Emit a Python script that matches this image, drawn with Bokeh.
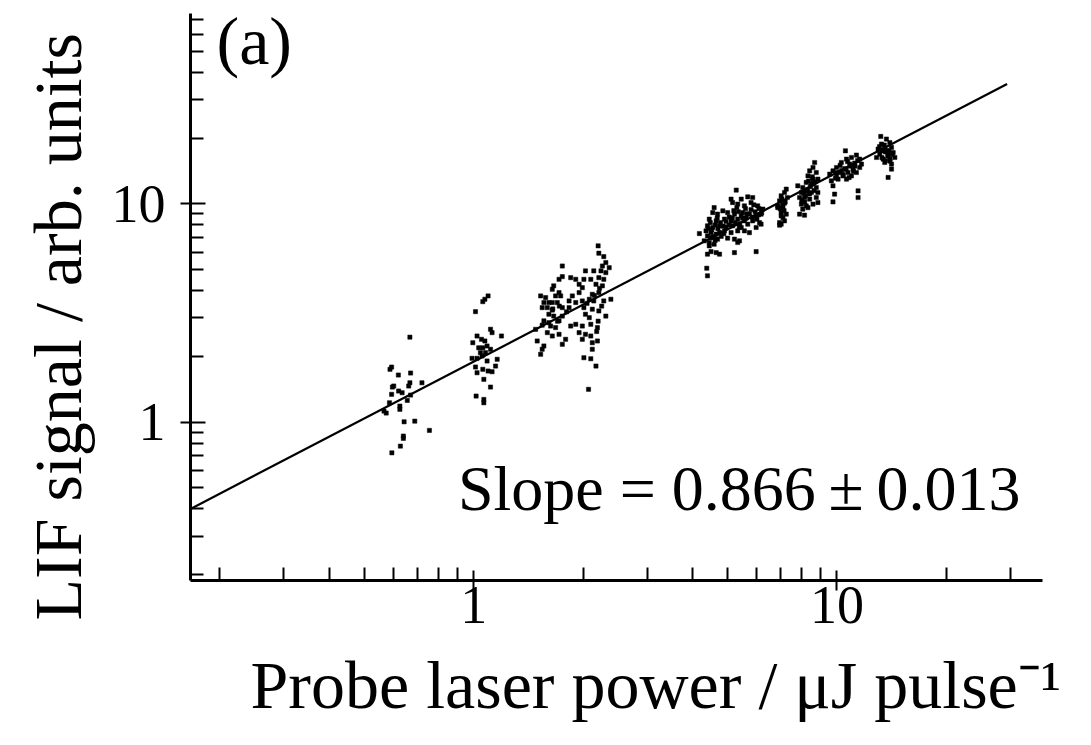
import math
from bokeh.plotting import figure
from bokeh.models import FixedTicker, Label, PrintfTickFormatter, Range1d, Title
from bokeh.embed import file_html
from bokeh.resources import INLINE

# ---------------- data ----------------
# probe laser power (uJ/pulse) and LIF signal (arb. units), grouped by cluster
power_a = [0.667, 0.588, 0.594, 0.620, 0.670, 0.667, 0.662, 0.720, 0.597, 0.602,
           0.594, 0.621, 0.635, 0.656, 0.670, 0.586, 0.626, 0.626, 0.566, 0.643,
           0.688, 0.755, 0.640, 0.640, 0.628, 0.595, 0.574]
signal_a = [2.45, 1.745, 1.787, 1.643, 1.678, 1.514, 1.463, 1.514, 1.447, 1.463,
            1.34, 1.388, 1.363, 1.257, 1.33, 1.226, 1.184, 1.144, 1.123, 1.003,
            1.01, 0.916, 0.863, 0.842, 0.776, 0.723, 1.10]

power_b = [1.095, 1.073, 1.059, 1.011, 1.112, 1.123, 1.192, 1.021, 1.050, 0.994,
           1.073, 1.032, 1.059, 1.088, 1.112, 1.043, 1.077, 0.989, 1.021, 1.054,
           1.088, 1.160, 1.011, 1.059, 1.095, 1.123, 1.148, 1.021, 1.066, 1.112,
           1.015, 1.066, 1.066]
signal_b = [3.785, 3.655, 3.563, 3.207, 2.663, 2.57, 2.48, 2.48, 2.395, 2.31,
            2.353, 2.19, 2.19, 2.232, 2.156, 2.08, 2.08, 1.96, 1.96, 2.009,
            1.905, 1.94, 1.788, 1.745, 1.714, 1.701, 1.806, 1.683, 1.57, 1.447,
            1.316, 1.27, 1.226]

power_c = [2.20, 2.21, 2.28, 2.31, 2.36, 2.26, 2.24, 2.31, 1.753, 2.03,
           2.14, 1.753, 1.717, 1.849, 1.909, 2.01, 2.10, 2.21, 2.28, 1.95,
           1.99, 2.17, 2.26, 1.66, 1.645, 1.717, 1.735, 1.68, 1.95, 1.868,
           2.12, 2.21, 1.528, 1.577, 1.56, 1.61, 1.645, 1.698, 1.83, 1.909,
           1.99, 2.08, 2.14, 2.28, 2.385, 1.543, 1.594, 1.645, 1.753, 1.83,
           2.01, 2.12, 2.21, 1.61, 1.66, 1.753, 2.03, 2.08, 2.31, 1.56,
           1.61, 1.717, 1.48, 1.543, 1.628, 1.68, 1.849, 1.909, 1.99, 2.10,
           2.19, 1.594, 1.645, 1.717, 1.79, 1.95, 2.03, 2.10, 1.495, 1.56,
           1.753, 1.99, 2.12, 2.19, 1.543, 1.528, 2.12, 2.01, 2.10, 2.17,
           2.07, 1.65, 1.72, 1.80, 2.15, 2.22, 2.25, 2.05, 1.70, 2.20,
           2.18]
signal_c = [6.42, 5.94, 5.73, 5.38, 5.10, 5.19, 4.93, 4.84, 5.19, 4.93,
            4.93, 4.64, 4.51, 4.59, 4.51, 4.51, 4.51, 4.59, 4.51, 4.28,
            4.13, 4.28, 4.21, 4.21, 4.06, 3.92, 3.785, 3.785, 3.92, 3.785,
            3.85, 3.92, 3.785, 3.72, 3.53, 3.53, 3.53, 3.53, 3.59, 3.53,
            3.59, 3.655, 3.59, 3.59, 3.655, 3.345, 3.345, 3.26, 3.345, 3.345,
            3.345, 3.29, 3.23, 3.12, 3.06, 3.06, 3.12, 3.01, 3.06, 2.91,
            2.855, 2.91, 2.66, 2.78, 2.755, 2.71, 2.755, 2.806, 2.755, 2.806,
            2.71, 2.57, 2.48, 2.525, 2.395, 2.57, 2.525, 2.48, 2.353, 2.232,
            2.272, 2.395, 2.31, 2.353, 2.156, 2.045, 2.156, 1.972, 1.951, 1.806,
            1.413, 3.3, 3.4, 3.2, 3.8, 4.1, 3.4, 3.5, 2.9, 2.9,
            2.6]

power_d = [5.28, 5.45, 5.68, 5.86, 5.11, 5.16, 5.33, 5.56, 5.80, 6.05,
           6.25, 6.87, 7.02, 4.59, 4.55, 4.69, 4.85, 5.00, 5.22, 5.50,
           5.74, 5.99, 6.18, 7.02, 4.45, 4.65, 4.90, 5.11, 5.33, 5.56,
           5.86, 6.12, 6.95, 4.40, 4.55, 4.75, 4.95, 5.16, 5.45, 5.68,
           5.99, 6.18, 4.36, 4.50, 4.65, 4.90, 5.11, 5.33, 5.56, 5.74,
           7.02, 4.18, 4.40, 4.55, 4.69, 5.00, 5.22, 5.39, 4.31, 4.45,
           4.59, 5.33, 4.45, 4.50, 4.65, 4.75, 4.40, 5.22, 5.99, 4.38,
           4.40,
           4.48, 4.62, 4.78, 4.52, 4.70, 4.85, 4.58, 4.75, 4.62, 4.80,
           4.48, 4.68, 4.95, 4.42, 4.88,
           5.05, 5.20, 5.35, 5.45, 5.60, 5.25, 5.40, 5.15, 5.50, 5.30,
           5.65, 5.05, 5.38, 5.62,
           5.80, 5.95, 6.10, 5.85, 6.02, 6.20, 5.90, 6.08]
signal_d = [11.56, 10.51, 10.77, 10.69, 10.51, 10.14, 9.97, 9.79, 10.14, 9.79,
            9.46, 9.61, 9.46, 9.61, 9.12, 8.97, 9.29, 9.12, 8.97, 9.12,
            8.97, 8.81, 8.97, 8.81, 8.51, 8.36, 8.51, 8.36, 8.51, 8.36,
            8.36, 8.21, 8.21, 7.93, 7.79, 7.93, 7.84, 7.93, 7.79, 8.07,
            7.79, 8.07, 7.52, 7.38, 7.26, 7.52, 7.38, 7.52, 7.52, 7.38,
            8.07, 7.31, 7.13, 7.00, 6.89, 6.96, 6.89, 6.77, 6.77, 6.65,
            6.53, 6.65, 6.42, 6.04, 5.98, 5.88, 5.88, 5.98, 6.04, 5.07,
            4.68,
            8.2, 8.0, 8.2, 7.6, 7.7, 7.9, 7.1, 7.4, 6.8, 7.1,
            7.0, 8.6, 8.3, 7.7, 7.3,
            8.7, 9.3, 9.2, 8.8, 9.5, 8.2, 8.1, 8.6, 8.6, 9.6,
            9.0, 8.0, 7.8, 8.6,
            9.4, 9.2, 9.5, 8.7, 8.5, 9.1, 9.9, 8.9]

power_e = [7.25, 7.17, 7.02, 7.30, 6.95, 7.17, 6.87, 7.10, 7.02, 7.25, 7.10, 7.17, 6.95,
           7.05, 7.20, 7.08, 7.15, 6.98,
           8.68, 8.59, 8.41, 8.77, 8.32, 8.59, 8.86, 8.23, 8.50, 7.80,
           8.05, 8.77, 7.98, 8.23, 8.50, 8.86, 7.89, 8.14, 8.41, 8.77,
           7.98, 8.23, 8.59, 8.86, 8.05, 8.32, 7.89, 8.14,
           8.10, 8.30, 8.45, 8.60, 8.20, 8.40, 8.65, 8.00, 8.35, 8.55, 8.70, 8.15,
           10.55, 11.31, 10.96, 10.62, 11.55, 10.28, 10.84, 11.19, 11.68, 9.97,
           10.5, 11.07, 11.55, 9.75, 10.17, 10.72, 11.31, 9.55, 9.97, 10.39,
           10.96, 9.65, 10.07, 10.62, 9.75, 11.43, 9.85, 11.43, 9.75,
           10.0, 10.3, 10.6, 10.9, 11.2, 10.4, 10.8, 11.1, 10.2, 10.7, 9.9, 11.4,
           13.20, 13.68, 13.98, 13.26, 12.98, 13.54, 14.13, 13.12, 13.83, 14.28,
           12.85, 13.40, 13.98, 14.43, 13.54, 14.13, 14.13, 13.83,
           13.3, 13.6, 13.9, 13.1, 13.5, 13.8, 13.3, 14.0, 13.6, 14.2]
signal_e = [11.68, 11.27, 10.88, 10.69, 10.32, 10.07, 9.79, 9.61, 9.12, 8.97, 8.65, 8.36, 7.98,
            10.5, 10.2, 9.9, 9.3, 9.5,
            15.47, 14.67, 14.17, 13.92, 13.43, 12.98, 12.98, 12.53, 12.31, 12.10,
            11.88, 11.88, 11.27, 11.47, 11.27, 11.27, 10.69, 10.69, 10.51, 10.69,
            9.97, 9.79, 9.97, 10.14, 9.46, 9.61, 8.97, 8.87,
            11.2, 11.6, 12.0, 12.4, 10.9, 11.1, 11.5, 10.4, 12.7, 13.3, 12.6, 10.2,
            17.5, 16.73, 16.31, 16.03, 16.03, 15.47, 15.21, 15.37, 15.21, 14.67,
            14.52, 14.43, 14.67, 14.17, 13.92, 13.92, 13.92, 13.68, 13.43, 13.43,
            13.43, 12.75, 12.98, 12.98, 12.10, 11.47, 11.08, 10.69, 10.21,
            13.9, 14.2, 14.4, 14.9, 14.9, 13.6, 13.2, 14.1, 15.0, 15.6, 13.1, 15.8,
            20.36, 19.81, 19.10, 18.79, 17.82, 17.82, 18.13, 16.90, 16.90, 17.19,
            16.31, 16.03, 16.03, 16.31, 15.47, 15.21, 14.43, 13.21,
            17.5, 17.3, 17.6, 18.3, 18.6, 16.6, 16.3, 15.7, 15.8, 16.8]

# power-law fit  signal = fit_amp * power ** fit_slope
fit_slope = 0.866
fit_slope_err = 0.013
fit_amp = 1.895
fit_power = [0.166, 29.4]

# axis ticks
x_major = [1, 10]
x_minor = [0.2, 0.3, 0.4, 0.5, 0.6, 0.7, 0.8, 0.9, 2, 3, 4, 5, 6, 7, 8, 9, 20, 30]
y_major = [1, 10]
y_minor = [0.2, 0.3, 0.4, 0.5, 0.6, 0.7, 0.8, 0.9, 2, 3, 4, 5, 6, 7, 8, 9,
           20, 30, 40, 50, 60, 70]
x_tick_labels = {1: "1", 10: "10"}
y_tick_labels = {1: "1", 10: "10"}

x_title = "Probe laser power / \u03bcJ pulse\u207b\u00b9"
y_title = "LIF signal / arb. units"
panel_tag = "(a)"

SERIF = "Liberation Serif"

# ---------------- figure ----------------
p = figure(width=1091, height=745, x_axis_type="log", y_axis_type="log",
           x_range=Range1d(0.166, 36.8), y_range=Range1d(0.188, 74.5),
           output_backend="svg", toolbar_location=None,
           min_border_left=190, min_border_right=49,
           min_border_top=13, min_border_bottom=165)
p.outline_line_color = None
p.xgrid.visible = False
p.ygrid.visible = False
p.background_fill_color = "white"
p.border_fill_color = "white"

for ax in (p.xaxis[0], p.yaxis[0]):
    ax.axis_line_width = 3
    ax.axis_line_color = "black"
    ax.major_tick_line_width = 2
    ax.minor_tick_line_width = 2
    ax.major_tick_line_color = "black"
    ax.minor_tick_line_color = "black"
    ax.minor_tick_in = 13
    ax.minor_tick_out = 0
    ax.major_label_text_font = SERIF
    ax.major_label_text_font_size = "54px"
    ax.major_label_text_color = "black"
    ax.formatter = PrintfTickFormatter(format="%d")

p.xaxis[0].ticker = FixedTicker(ticks=x_major, minor_ticks=x_minor)
p.yaxis[0].ticker = FixedTicker(ticks=y_major, minor_ticks=y_minor)
p.xaxis[0].major_label_overrides = x_tick_labels
p.yaxis[0].major_label_overrides = y_tick_labels
p.xaxis[0].major_tick_in = 10
p.xaxis[0].major_tick_out = 10
p.yaxis[0].major_tick_in = 15
p.yaxis[0].major_tick_out = 10
p.xaxis[0].major_label_standoff = -4
p.yaxis[0].major_label_standoff = 15

# axis titles as side titles (so their position along the axis can be set)
p.add_layout(Title(text=x_title, align="left", offset=60, standoff=38,
                   text_font=SERIF, text_font_size="68px", text_font_style="normal",
                   text_color="black"), "below")
p.add_layout(Title(text=y_title, align="left", offset=-40, standoff=26,
                   text_font=SERIF, text_font_size="68px", text_font_style="normal",
                   text_color="black"), "left")

# fit line
fit_signal = [fit_amp * x ** fit_slope for x in fit_power]
p.line(fit_power, fit_signal, line_color="black", line_width=2.2)

# data points
all_power = power_a + power_b + power_c + power_d + power_e
all_signal = signal_a + signal_b + signal_c + signal_d + signal_e
p.scatter(all_power, all_signal, marker="square", size=4.2,
          fill_color="black", line_color="black", line_width=0.5)

# in-frame texts (screen units relative to the plot frame)
p.add_layout(Label(x=26, y=540, x_units="screen", y_units="screen", text=panel_tag,
                   text_font=SERIF, text_font_size="68px", text_color="black",
                   text_align="left", text_baseline="alphabetic"))
p.add_layout(Label(x=830, y=92, x_units="screen", y_units="screen",
                   text="Slope = %.3f\u2009\u00b1\u2009%.3f" % (fit_slope, fit_slope_err),
                   text_font=SERIF, text_font_size="64px", text_color="black",
                   text_align="right", text_baseline="alphabetic"))

open("out.html", "w").write(file_html(p, INLINE))
